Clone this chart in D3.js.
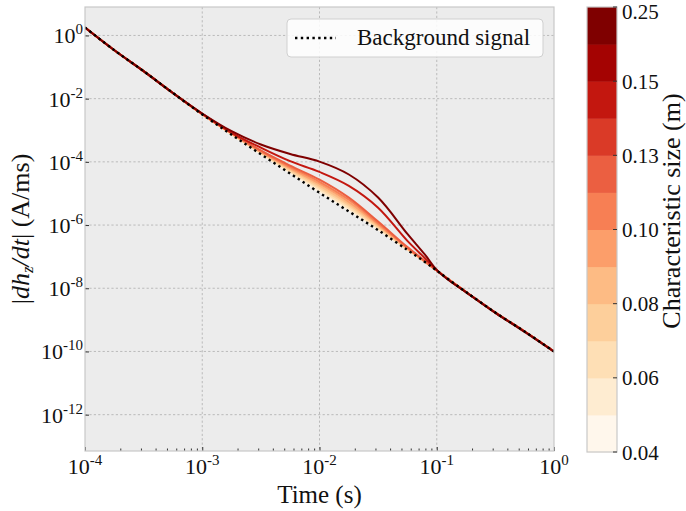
<!DOCTYPE html>
<html>
<head>
<meta charset="utf-8">
<script src="https://cdn.jsdelivr.net/npm/d3@7"></script>
<style>
  html, body { margin: 0; padding: 0; background: #ffffff; }
  svg { display: block; font-family: "Liberation Serif", "DejaVu Serif", serif; }
</style>
</head>
<body>
<svg id="chart" width="686" height="511"></svg>
<script>
// Sampling times (s)
const times = [1e-4, 1.78e-4, 3.16e-4, 5.62e-4, 1e-3, 1.78e-3, 3.16e-3, 5.62e-3, 1e-2,
               1.78e-2, 3.16e-2, 5.62e-2, 7.94e-2, 1e-1, 1.26e-1, 1.78e-1, 3.16e-1, 5.62e-1, 1];

// Shared early-time and late-time samples of |dhz/dt| (A/ms)
const early = [1.78, 0.339, 0.0741, 0.0151];
const late = [1.91e-8, 7.59e-9, 1.70e-9, 4.27e-10, 1.0e-10];

// Response without a target
const background = [...early, 3.16e-3, 7.24e-4, 1.74e-4, 4.27e-5, 1.05e-5, 2.69e-6,
                    6.92e-7, 1.62e-7, 6.76e-8, 3.63e-8, ...late];

// Characteristic size of each modelled target (m)
const sizes = [0.04, 0.05, 0.06, 0.07, 0.08, 0.09, 0.10, 0.12, 0.14, 0.25];

// Response for each target size, same order as `sizes`
const responses = [
  [...early, 3.16e-3, 7.24e-4, 1.78e-4, 4.47e-5, 1.12e-5, 2.95e-6, 7.24e-7, 1.66e-7, 6.76e-8, 3.63e-8, ...late],
  [...early, 3.16e-3, 7.41e-4, 1.82e-4, 4.68e-5, 1.23e-5, 3.16e-6, 7.59e-7, 1.66e-7, 6.76e-8, 3.63e-8, ...late],
  [...early, 3.16e-3, 7.59e-4, 1.91e-4, 5.01e-5, 1.38e-5, 3.55e-6, 8.13e-7, 1.70e-7, 6.76e-8, 3.63e-8, ...late],
  [...early, 3.16e-3, 7.59e-4, 1.95e-4, 5.37e-5, 1.55e-5, 4.07e-6, 8.71e-7, 1.78e-7, 6.92e-8, 3.63e-8, ...late],
  [...early, 3.24e-3, 7.76e-4, 2.04e-4, 5.89e-5, 1.78e-5, 4.68e-6, 9.55e-7, 1.82e-7, 6.92e-8, 3.63e-8, ...late],
  [...early, 3.24e-3, 7.94e-4, 2.09e-4, 6.31e-5, 2.04e-5, 5.37e-6, 1.05e-6, 1.86e-7, 7.08e-8, 3.63e-8, ...late],
  [...early, 3.24e-3, 8.13e-4, 2.19e-4, 6.92e-5, 2.34e-5, 6.31e-6, 1.15e-6, 1.91e-7, 7.08e-8, 3.63e-8, ...late],
  [...early, 3.31e-3, 8.32e-4, 2.29e-4, 7.59e-5, 2.75e-5, 7.41e-6, 1.29e-6, 2.00e-7, 7.24e-8, 3.63e-8, ...late],
  [...early, 3.31e-3, 8.32e-4, 2.82e-4, 1.05e-4, 4.79e-5, 1.74e-5, 3.55e-6, 3.16e-7, 8.91e-8, 3.72e-8,
   1.86e-8, 7.59e-9, 1.70e-9, 4.27e-10, 1.0e-10],
  [...early, 3.39e-3, 9.33e-4, 3.55e-4, 1.78e-4, 1.02e-4, 3.98e-5, 7.41e-6, 5.25e-7, 1.15e-7, 3.80e-8,
   1.82e-8, 7.41e-9, 1.66e-9, 4.17e-10, 9.8e-11]
];

// Colour-bar boundaries (m) and the labelled ones
const cbBounds = [0.04, 0.05, 0.06, 0.07, 0.08, 0.09, 0.10, 0.115, 0.13, 0.14, 0.15, 0.20, 0.25];
const cbTickIndex = [0, 2, 4, 6, 8, 10, 12];
const cbTickLabels = ["0.04", "0.06", "0.08", "0.10", "0.13", "0.15", "0.25"];

// Axis decades
const xTickExp = [-4, -3, -2, -1, 0];
const yTickExp = [0, -2, -4, -6, -8, -10, -12];

// ---------- layout ----------
const svg = d3.select("#chart");
const plot = { left: 85, right: 554, top: 7, bottom: 451 };
const cb = { left: 587, right: 617, top: 7, bottom: 452 };

const x = d3.scaleLog().domain([1e-4, 1]).range([plot.left, plot.right]);
const y = d3.scaleLog().domain([Math.pow(10, -13.15), Math.pow(10, 0.9)]).range([plot.bottom, plot.top]);

const nSeg = cbBounds.length - 1;
const segColors = d3.quantize(d3.interpolateOrRd, nSeg);
const color = d3.scaleThreshold().domain(cbBounds.slice(1, -1)).range(segColors);

// plot background
svg.append("rect")
  .attr("x", plot.left).attr("y", plot.top)
  .attr("width", plot.right - plot.left).attr("height", plot.bottom - plot.top)
  .attr("fill", "#ececec");

// grid
const grid = svg.append("g").attr("stroke", "#b4b4b4").attr("stroke-width", 0.9)
  .attr("stroke-dasharray", "2.2,2.2");
grid.selectAll("line.gx").data(xTickExp.slice(1, -1)).join("line")
  .attr("x1", d => x(Math.pow(10, d))).attr("x2", d => x(Math.pow(10, d)))
  .attr("y1", plot.top).attr("y2", plot.bottom);
grid.selectAll("line.gy").data(yTickExp).join("line")
  .attr("y1", d => y(Math.pow(10, d))).attr("y2", d => y(Math.pow(10, d)))
  .attr("x1", plot.left).attr("x2", plot.right);

// curves
svg.append("clipPath").attr("id", "clip").append("rect")
  .attr("x", plot.left).attr("y", plot.top)
  .attr("width", plot.right - plot.left).attr("height", plot.bottom - plot.top);

const line = d3.line()
  .x((d, i) => x(times[i]))
  .y(d => y(d))
  .curve(d3.curveCatmullRom.alpha(0.5));

const curves = svg.append("g").attr("clip-path", "url(#clip)");
curves.selectAll("path.resp").data(sizes).join("path")
  .attr("class", "resp")
  .attr("d", (s, i) => line(responses[i]))
  .attr("fill", "none")
  .attr("stroke", s => color(s))
  .attr("stroke-width", 2);

curves.append("path")
  .attr("d", line(background))
  .attr("fill", "none")
  .attr("stroke", "#000")
  .attr("stroke-width", 2.4)
  .attr("stroke-dasharray", "2.4,3.4");

// axes (ticks pointing inward)
const xAxis = d3.axisBottom(x)
  .tickValues(xTickExp.map(e => Math.pow(10, e)))
  .tickSize(-4).tickFormat("");
const gx = svg.append("g").attr("transform", `translate(0,${plot.bottom})`).call(xAxis);

const minorX = [];
for (const e of xTickExp.slice(0, -1)) for (let k = 2; k <= 9; k++) minorX.push(k * Math.pow(10, e));
const gxm = svg.append("g").attr("transform", `translate(0,${plot.bottom})`)
  .call(d3.axisBottom(x).tickValues(minorX).tickSize(-2.5).tickFormat(""));

const yAxis = d3.axisLeft(y)
  .tickValues(yTickExp.map(e => Math.pow(10, e)))
  .tickSize(-4).tickFormat("");
const gy = svg.append("g").attr("transform", `translate(${plot.left},0)`).call(yAxis);

[gx, gxm, gy].forEach(g => {
  g.select(".domain").remove();
  g.selectAll(".tick line").attr("stroke", "#333").attr("stroke-width", 1);
});

// plot frame
svg.append("rect")
  .attr("x", plot.left).attr("y", plot.top)
  .attr("width", plot.right - plot.left).attr("height", plot.bottom - plot.top)
  .attr("fill", "none").attr("stroke", "#c8c8c8").attr("stroke-width", 1.2);

// tick labels 10^n
function powerLabel(g, exp, px, py, anchor) {
  const t = g.append("text").attr("x", px).attr("y", py)
    .attr("text-anchor", anchor).attr("font-size", 22).attr("fill", "#111");
  t.append("tspan").text("10");
  t.append("tspan").attr("font-size", 15).attr("dy", -9).text(exp);
  return t;
}
const xl = svg.append("g");
xTickExp.forEach(e => powerLabel(xl, e, x(Math.pow(10, e)), 474, "middle"));
const yl = svg.append("g");
yTickExp.forEach(e => powerLabel(yl, e, 83, y(Math.pow(10, e)) + 8, "end"));

// axis titles
svg.append("text").attr("x", (plot.left + plot.right) / 2).attr("y", 503)
  .attr("text-anchor", "middle").attr("font-size", 25).attr("fill", "#111").text("Time (s)");

const ylab = svg.append("text")
  .attr("transform", `translate(29,${(plot.top + plot.bottom) / 2}) rotate(-90)`)
  .attr("text-anchor", "middle").attr("font-size", 26).attr("fill", "#111");
ylab.append("tspan").text("|");
ylab.append("tspan").attr("font-style", "italic").text("dh");
ylab.append("tspan").attr("font-style", "italic").attr("font-size", 17).attr("dy", 4).text("z");
ylab.append("tspan").attr("font-style", "italic").attr("dy", -4).text("/dt");
ylab.append("tspan").text("| (A/ms)");

// legend
const lg = svg.append("g");
lg.append("rect").attr("x", 287).attr("y", 19).attr("width", 256).attr("height", 38)
  .attr("rx", 4).attr("fill", "#ffffff").attr("fill-opacity", 0.85)
  .attr("stroke", "#d0d0d0").attr("stroke-width", 1);
lg.append("line").attr("x1", 295).attr("x2", 336).attr("y1", 38).attr("y2", 38)
  .attr("stroke", "#000").attr("stroke-width", 2.4).attr("stroke-dasharray", "2.4,3.4");
lg.append("text").attr("x", 357).attr("y", 45).attr("font-size", 23).attr("fill", "#111")
  .text("Background signal");

// colour bar
const cbY = d3.scaleLinear().domain([0, nSeg]).range([cb.bottom, cb.top]);
const cbg = svg.append("g");
cbg.selectAll("rect.seg").data(segColors).join("rect")
  .attr("class", "seg")
  .attr("x", cb.left).attr("width", cb.right - cb.left)
  .attr("y", (c, i) => cbY(i + 1)).attr("height", (c, i) => cbY(i) - cbY(i + 1) + 0.5)
  .attr("fill", c => c);
cbg.append("rect").attr("x", cb.left).attr("y", cb.top)
  .attr("width", cb.right - cb.left).attr("height", cb.bottom - cb.top)
  .attr("fill", "none").attr("stroke", "#c8c8c8").attr("stroke-width", 1.2);
cbg.selectAll("line.cbt").data(cbTickIndex).join("line")
  .attr("x1", cb.right - 4).attr("x2", cb.right)
  .attr("y1", d => cbY(d)).attr("y2", d => cbY(d))
  .attr("stroke", "#333").attr("stroke-width", 1);
cbg.selectAll("text.cbl").data(cbTickIndex).join("text")
  .attr("x", 622).attr("y", d => Math.max(cbY(d) + 7.5, 19))
  .attr("font-size", 21).attr("fill", "#111")
  .text((d, i) => cbTickLabels[i]);
svg.append("text")
  .attr("transform", `translate(680,211) rotate(-90)`)
  .attr("text-anchor", "middle").attr("font-size", 26).attr("fill", "#111")
  .text("Characteristic size (m)");
</script>
</body>
</html>
